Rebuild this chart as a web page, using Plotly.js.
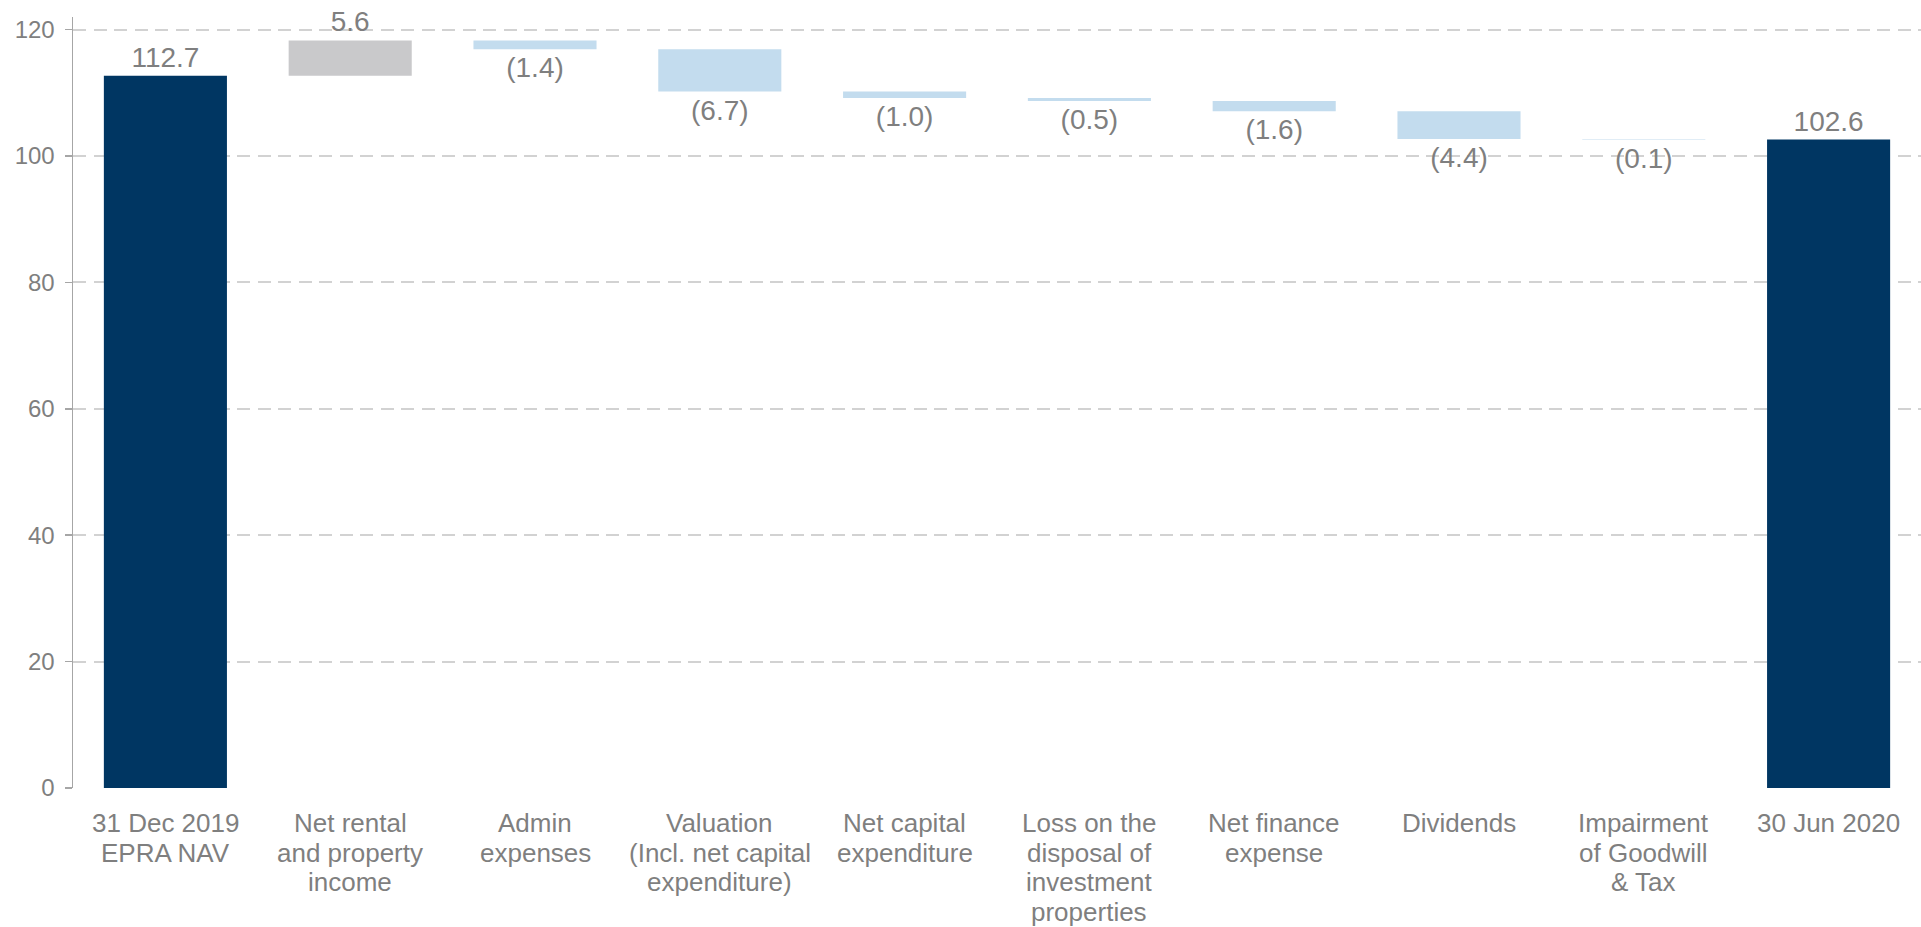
<!DOCTYPE html>
<html>
<head>
<meta charset="utf-8">
<script src="https://cdn.plot.ly/plotly-3.0.1.min.js"></script>
<style>
  html, body { margin: 0; padding: 0; background: #ffffff; overflow: hidden; }
  #chart { width: 1921px; height: 927px; }
</style>
</head>
<body>
<div id="chart"></div>
<script>
// ---- data ----
const categories = [
  "31 Dec 2019<br>EPRA NAV",
  "Net rental<br>and property<br>income",
  "Admin<br>expenses",
  "Valuation<br>(Incl. net capital<br>expenditure)",
  "Net capital<br>expenditure",
  "Loss on the<br>disposal of<br>investment<br>properties",
  "Net finance<br>expense",
  "Dividends",
  "Impairment<br>of Goodwill<br>& Tax",
  "30 Jun 2020"
];
const measures = ["absolute", "relative", "relative", "relative", "relative",
                  "relative", "relative", "relative", "relative", "total"];
const values = [112.7, 5.6, -1.4, -6.7, -1.0, -0.5, -1.6, -4.4, -0.1, 102.6];
const yTickValues = [0, 20, 40, 60, 80, 100, 120];

// ---- labels built from values ----
const valueLabels = values.map(v => v < 0 ? "(" + Math.abs(v).toFixed(1) + ")" : v.toFixed(1));

const FONT = 'Arial, "Liberation Sans", sans-serif';
const GREY_TEXT = '#7f7f7f';

const trace = {
  type: 'waterfall',
  x: categories,
  y: values,
  measure: measures,
  text: valueLabels,
  textinfo: 'text',
  textposition: 'outside',
  constraintext: 'none',
  cliponaxis: false,
  outsidetextfont: { family: FONT, size: 28, color: GREY_TEXT },
  connector: { visible: false },
  increasing: { marker: { color: '#c9c9cb' } },
  decreasing: { marker: { color: '#c3dcee' } },
  totals: { marker: { color: '#003662' } },
  hoverinfo: 'x+y'
};

// category labels, one annotation per line for tight line spacing
const annotations = [];
categories.forEach((cat, i) => {
  cat.split('<br>').forEach((line, j) => {
    annotations.push({
      x: cat, xref: 'x',
      y: 0, yref: 'y',
      text: line,
      showarrow: false,
      xanchor: 'center', yanchor: 'middle',
      yshift: -(35.3 + j * 29.5),
      font: { family: FONT, size: 26, color: GREY_TEXT }
    });
  });
});

const layout = {
  width: 1921,
  height: 927,
  margin: { l: 73, r: 0, t: 17, b: 139, pad: 0 },
  paper_bgcolor: '#ffffff',
  plot_bgcolor: '#ffffff',
  showlegend: false,
  waterfallgap: 0.334,
  font: { family: FONT, color: GREY_TEXT },
  xaxis: {
    type: 'category',
    range: [-0.5, 9.5],
    showticklabels: false,
    ticks: '',
    showline: false,
    showgrid: false,
    zeroline: false,
    fixedrange: true
  },
  yaxis: {
    range: [0, 122],
    tickvals: yTickValues,
    ticktext: yTickValues.map(String),
    tickfont: { family: FONT, size: 24, color: GREY_TEXT },
    ticks: 'outside',
    ticklen: 7,
    tickwidth: 1.5,
    tickcolor: '#a6a6a6',
    ticklabelstandoff: 5,
    showline: true,
    linecolor: '#a6a6a6',
    linewidth: 1.5,
    showgrid: true,
    gridcolor: '#d2d2d2',
    gridwidth: 2,
    griddash: '13px,7.5px',
    zeroline: true,
    zerolinecolor: 'rgba(0,0,0,0)',
    zerolinewidth: 1,
    fixedrange: true
  },
  annotations: annotations
};

Plotly.newPlot('chart', [trace], layout, { displayModeBar: false, staticPlot: true });
</script>
</body>
</html>
